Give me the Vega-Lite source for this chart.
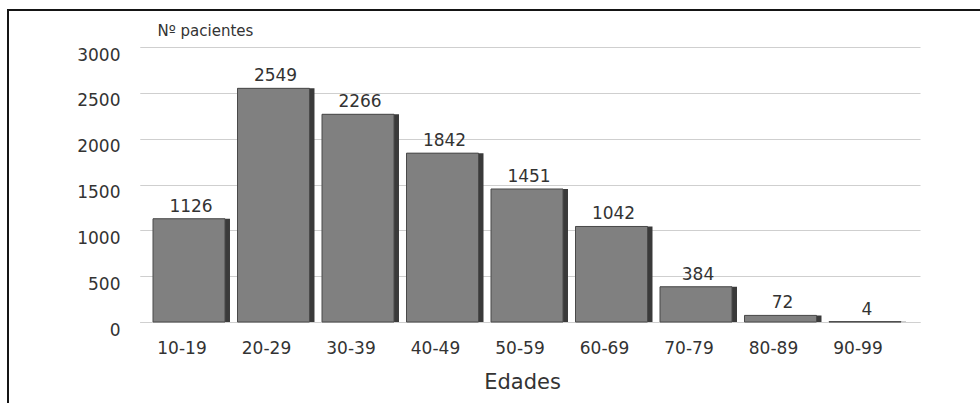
{
  "$schema": "https://vega.github.io/schema/vega-lite/v6.json",
  "description": "Número de pacientes por grupo de edad",
  "width": 990,
  "height": 400,
  "autosize": {"type": "none"},
  "padding": {"left": 8, "top": 10, "right": 0, "bottom": 0},
  "background": "white",
  "config": {
    "font": "DejaVu Sans",
    "view": {"stroke": "#151515", "strokeWidth": 2, "fill": "white"}
  },
  "data": {
    "values": [
      {"edad": "10-19", "pacientes": 1126},
      {"edad": "20-29", "pacientes": 2549},
      {"edad": "30-39", "pacientes": 2266},
      {"edad": "40-49", "pacientes": 1842},
      {"edad": "50-59", "pacientes": 1451},
      {"edad": "60-69", "pacientes": 1042},
      {"edad": "70-79", "pacientes": 384},
      {"edad": "80-89", "pacientes": 72},
      {"edad": "90-99", "pacientes": 4}
    ]
  },
  "encoding": {
    "x": {
      "field": "edad",
      "type": "nominal",
      "sort": null,
      "scale": {"range": [131.75, 912], "paddingInner": 0, "paddingOuter": 0.1168, "align": 0},
      "axis": {
        "title": "Edades",
        "titleFontSize": 21,
        "titleFontWeight": "normal",
        "titleColor": "#333333",
        "titleX": 514,
        "titleY": 66,
        "titleBaseline": "alphabetic",
        "offset": -88,
        "labelAngle": 0,
        "labelFontSize": 17,
        "labelColor": "#333333",
        "labelBaseline": "alphabetic",
        "labelPadding": 31,
        "ticks": false,
        "tickSize": 0,
        "domainColor": "#d0d0d0",
        "grid": false
      }
    },
    "y": {
      "field": "pacientes",
      "type": "quantitative",
      "scale": {"domain": [0, 3000], "range": [312, 37], "nice": false},
      "axis": {
        "title": "Nº pacientes",
        "titleAngle": 0,
        "titleAlign": "left",
        "titleBaseline": "alphabetic",
        "titleX": 17,
        "titleY": 25,
        "titleFontSize": 15,
        "titleFontWeight": "normal",
        "titleColor": "#333333",
        "offset": -132,
        "domain": false,
        "ticks": false,
        "tickSize": 0,
        "format": "d",
        "labelPadding": 20,
        "labelOffset": 8,
        "labelFontSize": 17,
        "labelColor": "#333333",
        "values": [0, 500, 1000, 1500, 2000, 2500, 3000],
        "grid": true,
        "gridColor": "#cfcfcf"
      }
    }
  },
  "layer": [
    {
      "mark": {"type": "bar", "color": "#3a3a3a", "width": {"band": 0.911}, "xOffset": 9.5}
    },
    {
      "mark": {"type": "bar", "color": "#808080", "stroke": "#4a4a4a", "strokeWidth": 1, "width": {"band": 0.852}, "xOffset": 7}
    },
    {
      "mark": {"type": "text", "baseline": "alphabetic", "dy": -7, "xOffset": 9, "fontSize": 17, "color": "#333333"},
      "encoding": {"text": {"field": "pacientes", "type": "quantitative", "format": "d"}}
    }
  ]
}
